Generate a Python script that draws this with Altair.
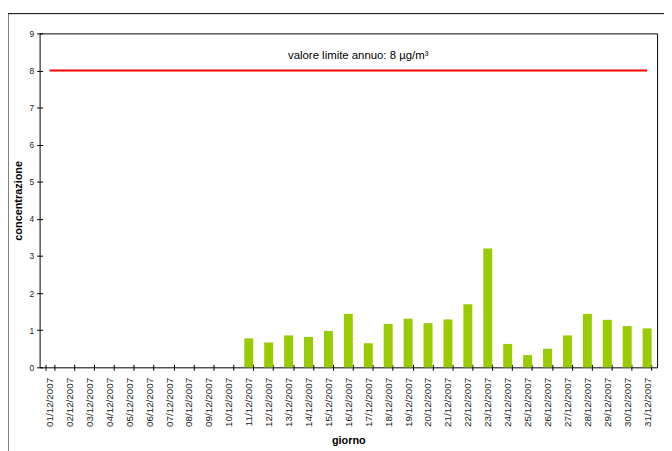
import altair as alt
import pandas as pd

days = ["01/12/2007", "02/12/2007", "03/12/2007", "04/12/2007", "05/12/2007",
        "06/12/2007", "07/12/2007", "08/12/2007", "09/12/2007", "10/12/2007",
        "11/12/2007", "12/12/2007", "13/12/2007", "14/12/2007", "15/12/2007",
        "16/12/2007", "17/12/2007", "18/12/2007", "19/12/2007", "20/12/2007",
        "21/12/2007", "22/12/2007", "23/12/2007", "24/12/2007", "25/12/2007",
        "26/12/2007", "27/12/2007", "28/12/2007", "29/12/2007", "30/12/2007",
        "31/12/2007"]
values = [None, None, None, None, None, None, None, None, None, None,
          0.78, 0.67, 0.86, 0.82, 0.98, 1.44, 0.65, 1.17, 1.31, 1.19,
          1.29, 1.70, 3.20, 0.63, 0.33, 0.50, 0.86, 1.44, 1.28, 1.11, 1.05]
limit_value = 8
limit_days = ["01/12/2007", "31/12/2007"]
limit_label = "valore limite annuo: 8 µg/m³"
y_ticks = [0, 1, 2, 3, 4, 5, 6, 7, 8, 9]

df = pd.DataFrame({"giorno": days, "concentrazione": values})
df_limit = pd.DataFrame({"giorno": limit_days, "concentrazione": [limit_value, limit_value]})
df_label = pd.DataFrame({"giorno": ["16/12/2007"], "concentrazione": [8.38], "t": [limit_label]})

FONT = "Liberation Sans"

x_enc = alt.X(
    "giorno:N", sort=days, title="giorno",
    scale=alt.Scale(domain=days, paddingInner=0.55, paddingOuter=0.275),
    axis=alt.Axis(labelAngle=-90, labelAlign="right", labelBaseline="middle",
                  labelFontSize=10, labelColor="#222222", labelFont=FONT,
                  tickBand="extent", tickSize=6, tickColor="#000000", offset=-3,
                  domain=False, labelPadding=7, titleFont=FONT, titleFontSize=11,
                  titleFontWeight="bold", titleColor="#000000", titlePadding=8,
                  labelOverlap=False, grid=False),
)
y_enc = alt.Y(
    "concentrazione:Q", title="concentrazione",
    scale=alt.Scale(domain=[0, 9], nice=False),
    axis=alt.Axis(values=y_ticks, tickCount=20, format="d", tickSize=6, offset=-3,
                  domain=False, tickColor="#000000", labelFontSize=8.5,
                  labelColor="#222222", labelFont=FONT, labelPadding=3,
                  titleFont=FONT, titleFontSize=11, titleFontWeight="bold",
                  titleColor="#000000", titlePadding=6, labelOverlap=False, grid=False),
)

bars = alt.Chart(df).mark_bar(color="#99CC00").encode(x=x_enc, y=y_enc)

limit = alt.Chart(df_limit).mark_line(color="#FF0000", strokeWidth=2).encode(
    x=x_enc, y=y_enc)

label = alt.Chart(df_label).mark_text(
    font=FONT, fontSize=11.5, color="#000000", dx=10, align="center", baseline="middle"
).encode(x=x_enc, y=y_enc, text="t:N")

frame_left = alt.Chart(df_label).mark_rule(color="#000000", strokeWidth=1).encode(
    x=alt.value(-32), y=alt.value(-20), y2=alt.value(500))
frame_top = alt.Chart(df_label).mark_rule(color="#000000", strokeWidth=1).encode(
    x=alt.value(-32), x2=alt.value(700), y=alt.value(-20))

chart = alt.layer(bars, limit, label, frame_left, frame_top).properties(
    width=625, height=338,
    autosize=alt.AutoSizeParams(type="none"),
    padding={"left": 32, "top": 23, "right": 7, "bottom": 82},
    background="#ffffff",
).configure_view(stroke="#000000", strokeWidth=1)

chart.save("out.html", embed_options={"renderer": "svg", "actions": False})
